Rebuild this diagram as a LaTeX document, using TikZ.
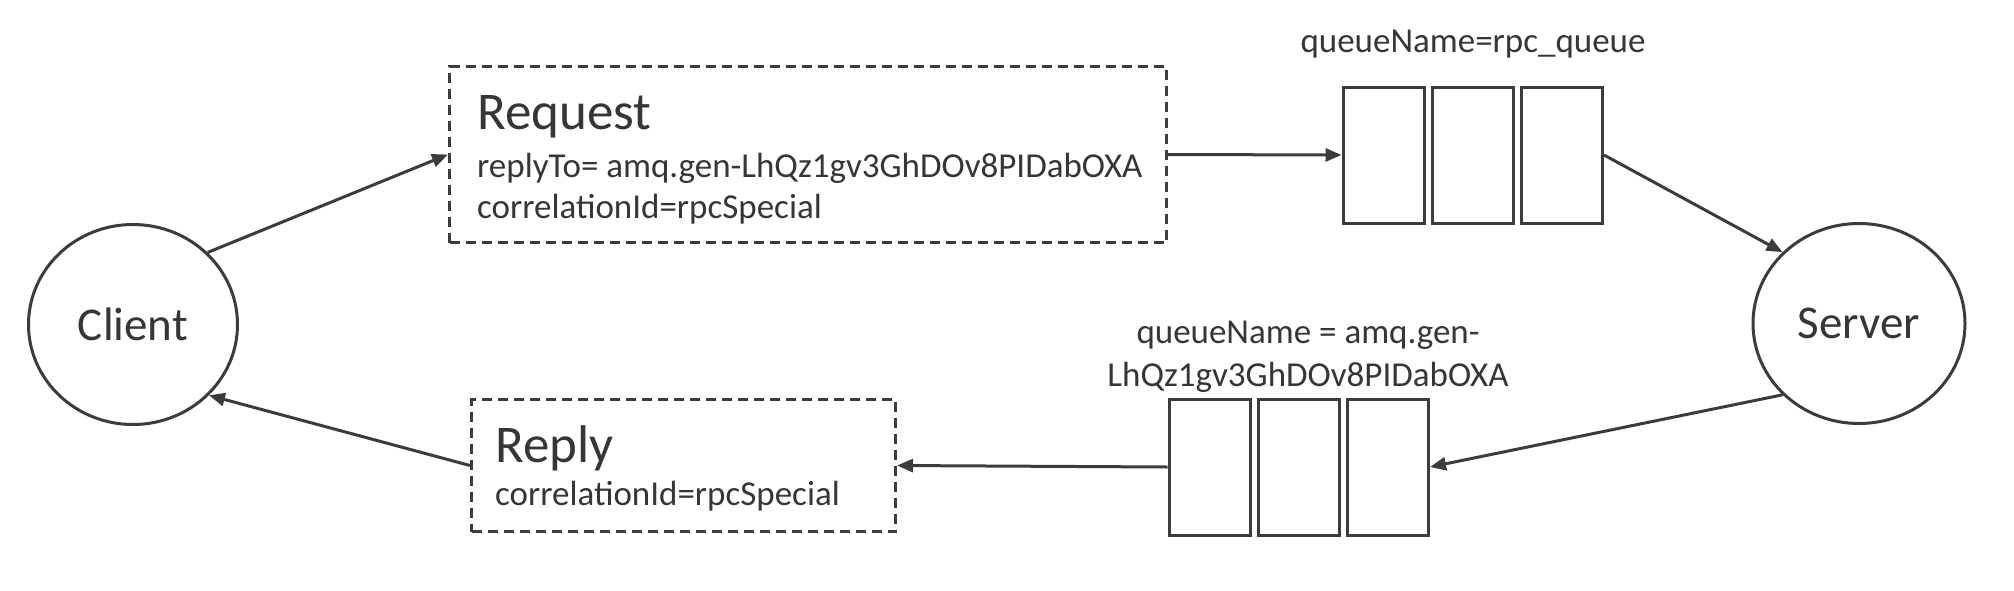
\documentclass[tikz,border=0pt]{standalone}
\usepackage{fontspec}
\setmainfont{Carlito}
\usetikzlibrary{arrows.meta,shapes.geometric}
\definecolor{ink}{HTML}{3C3C3C}
\definecolor{txt}{HTML}{363636}
\tikzset{
  conn/.style={draw=ink, line width=3pt, -{Triangle[length=16pt,width=13pt]}},
  actor/.style={ellipse, draw=ink, line width=3pt, text=txt, font=\fontsize{47}{56}\selectfont, inner sep=0pt},
  msgbox/.style={rectangle, draw=ink, line width=3pt, dash pattern=on 10pt off 6pt, inner sep=0pt},
  cell/.style={rectangle, draw=ink, line width=3pt, minimum width=81pt, minimum height=136pt, inner sep=0pt},
  small/.style={text=txt, font=\fontsize{35}{42}\selectfont, inner sep=0pt},
  big/.style={text=txt, font=\fontsize{53}{60}\selectfont, inner sep=0pt},
}
\begin{document}
\begin{tikzpicture}[x=1pt,y=-1pt]
\useasboundingbox (0,0) rectangle (2014,590);
\fill[white] (0,0) rectangle (2014,590);

% actors
\node[actor, minimum width=209pt, minimum height=200pt] (client) at (133,324.5) {Client};
\node[actor, minimum width=212pt, minimum height=200pt] (server) at (1859,323.5) {Server};

% message boxes
\node[msgbox, minimum width=717pt, minimum height=176pt] (req) at (808,154.5) {};
\node[msgbox, minimum width=424pt, minimum height=132pt] (rep) at (683.5,465.5) {};

\node[big, anchor=base west] (reqT) at (477,129) {Request};
\node[small, anchor=base west] (reqA) at (477,177) {replyTo= amq.gen-LhQz1gv3GhDOv8PIDabOXA};
\node[small, anchor=base west] (reqB) at (477,218) {correlationId=rpcSpecial};

\node[big, anchor=base west] (repT) at (495,462) {Reply};
\node[small, anchor=base west] (repB) at (495,505) {correlationId=rpcSpecial};

% queues
\node[cell] (q1a) at (1383.5,155) {};
\node[cell] (q1b) at (1473,155) {};
\node[cell] (q1c) at (1562,155) {};
\node[small, anchor=base] (q1lab) at (1473,52) {queueName=rpc\_queue};

\node[cell] (q2a) at (1209.5,467) {};
\node[cell] (q2b) at (1299,467) {};
\node[cell] (q2c) at (1388,467) {};
\node[small, anchor=base] (q2labA) at (1308,343) {queueName = amq.gen-};
\node[small, anchor=base] (q2labB) at (1308,386) {LhQz1gv3GhDOv8PIDabOXA};

% connectors
\draw[conn] (client.44) -- (req.west);
\draw[conn] (req.east) -- (q1a.west);
\draw[conn] (q1c.east) -- (server.137);
\draw[conn] (server.223) -- (q2c.east);
\draw[conn] (q2a.west) -- (rep.east);
\draw[conn] (rep.west) -- (client.317);
\end{tikzpicture}
\end{document}
